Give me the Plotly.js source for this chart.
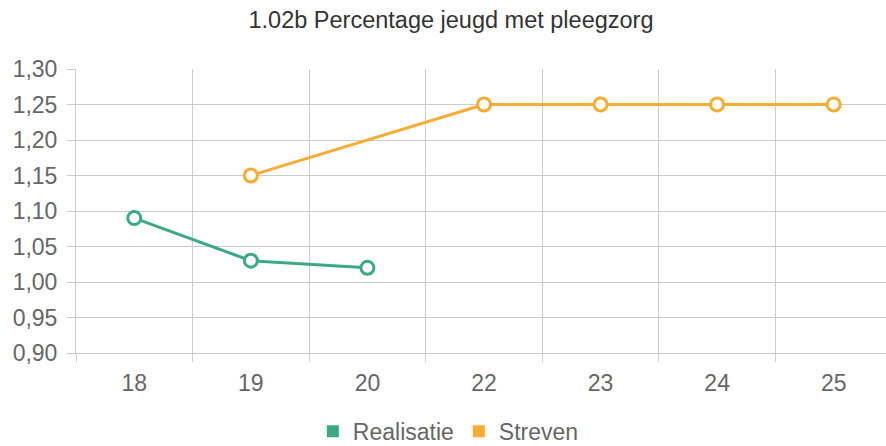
<!DOCTYPE html>
<html>
<head>
<meta charset="utf-8">
<script src="https://cdn.plot.ly/plotly-3.0.1.min.js"></script>
<style>
html,body{margin:0;padding:0;overflow:hidden;background:#fff;}
#chart{width:892px;height:470px;}
</style>
</head>
<body>
<div id="chart"></div>
<script>
const categories = ['18', '19', '20', '22', '23', '24', '25'];
const realisatie = [1.09, 1.03, 1.02, null, null, null, null];
const streven = [null, 1.15, null, 1.25, 1.25, 1.25, 1.25];
const seriesNames = ['Realisatie', 'Streven'];
const colors = ['#3ba886', '#f7ac33'];
const titleText = '1.02b Percentage jeugd met pleegzorg';

const font = "'Liberation Sans', Arial, sans-serif";

function lineTrace(y, name, color) {
  return {
    type: 'scatter', mode: 'lines+markers', x: categories, y: y, name: name,
    connectgaps: true, showlegend: false, cliponaxis: false,
    line: {color: color, width: 3},
    marker: {size: 13, color: '#ffffff', line: {color: color, width: 3}},
    hoverinfo: 'x+y'
  };
}
function legendTrace(name, color) {
  return {
    type: 'scatter', mode: 'markers', x: [null], y: [null], name: name,
    marker: {symbol: 'square', size: 12, color: color}, showlegend: true
  };
}

const data = [
  lineTrace(realisatie, seriesNames[0], colors[0]),
  lineTrace(streven, seriesNames[1], colors[1]),
  legendTrace(seriesNames[0], colors[0]),
  legendTrace(seriesNames[1], colors[1])
];

const H = 470;
const layout = {
  width: 892, height: H,
  margin: {l: 76, r: 0, t: 69, b: H - 353.5},
  paper_bgcolor: '#ffffff', plot_bgcolor: '#ffffff',
  font: {family: font, size: 23, color: '#666666'},
  separators: ',.',
  title: {text: titleText, font: {family: font, size: 23.5, color: '#333333'}, x: 451/892, xanchor: 'center', y: 1 - 20/H, yanchor: 'middle'},
  xaxis: {
    type: 'category', categoryorder: 'array', categoryarray: categories,
    range: [-0.5, 6.5], autorange: false,
    tickson: 'boundaries', ticks: 'outside', ticklen: 8, tickcolor: '#cccccc', tickwidth: 1,
    ticklabelstandoff: 9,
    showgrid: true, gridcolor: '#cccccc', gridwidth: 1,
    showline: true, linecolor: '#cccccc', linewidth: 1,
    tickfont: {size: 23, color: '#666666'}, fixedrange: true, automargin: false
  },
  yaxis: {
    range: [0.9, 1.3], autorange: false, dtick: 0.05, tick0: 0.9, tickformat: '.2f',
    ticks: 'outside', ticklen: 8, tickcolor: '#cccccc', tickwidth: 1,
    ticklabelstandoff: 5,
    showgrid: true, gridcolor: '#cccccc', gridwidth: 1,
    showline: true, linecolor: '#cccccc', zeroline: false,
    tickfont: {size: 23, color: '#666666'}, fixedrange: true, automargin: false
  },
  legend: {orientation: 'h', x: 407/892, xanchor: 'center', y: (353.5 - 432) / 284.5, yanchor: 'middle',
    font: {size: 23, color: '#666666'}, itemwidth: 30},
  showlegend: true
};

Plotly.newPlot('chart', data, layout, {displayModeBar: false, staticPlot: true});
</script>
</body>
</html>
